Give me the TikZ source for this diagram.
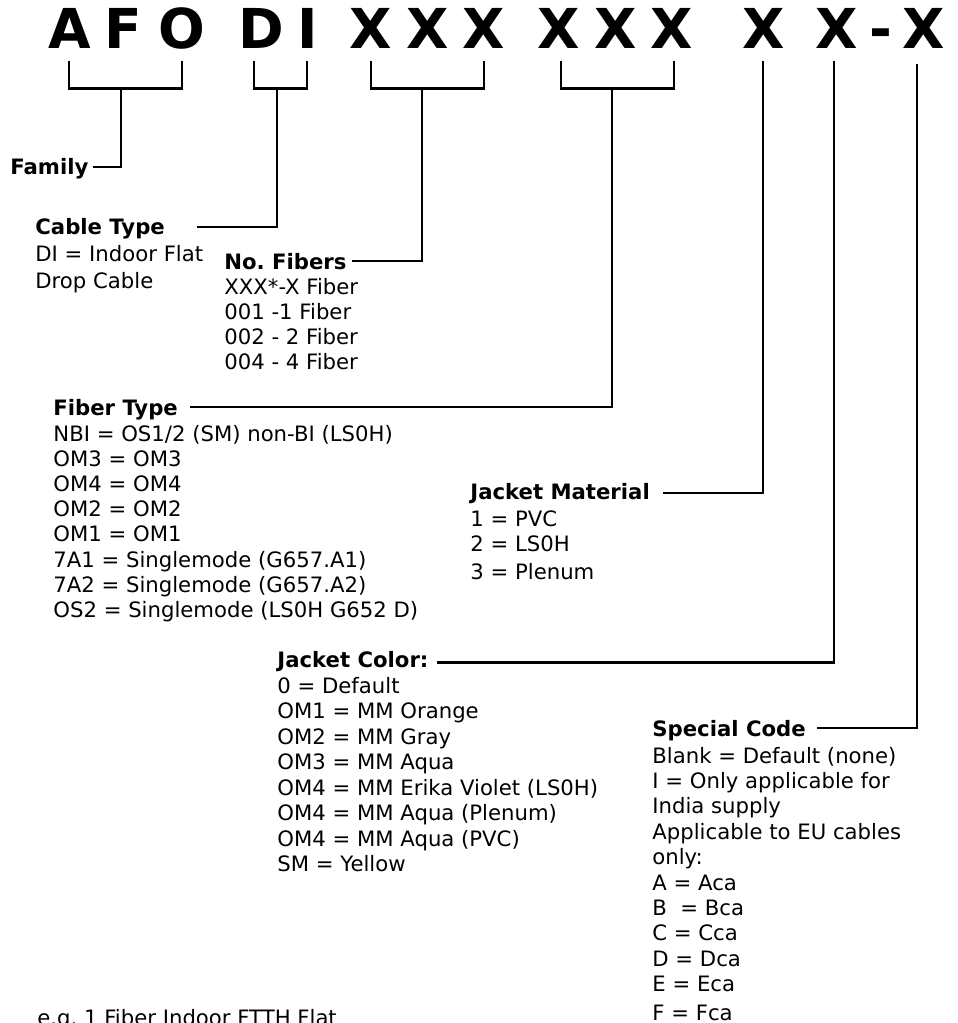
\documentclass[tikz,border=0pt]{standalone}
\usepackage{fontspec}
\setmainfont{DejaVu Sans}
\frenchspacing
\newcommand\blk[2]{{\fontsize{10.6pt}{#1}\selectfont\begin{tabular}[t]{@{}l@{}}#2\end{tabular}}}
\tikzset{
  conn/.style={line width=1.45pt, line join=miter},
  head/.style={font=\fontsize{10.6pt}{12.7pt}\selectfont\bfseries, anchor=base west, inner sep=0pt},
  body/.style={anchor=base west, inner sep=0pt},
  big/.style={font=\fontsize{27.5pt}{30pt}\selectfont\bfseries, anchor=base, inner sep=0pt}
}
\begin{document}
\begin{tikzpicture}[x=0.5pt, y=-0.5pt]
\useasboundingbox (0,0) rectangle (958,1023);
\fill[white] (0,0) rectangle (958,1023);
\clip (0,0) rectangle (958,1023);

% header letters
\node[big] (h1) at (69.7,48) {A};
\node[big] (h2) at (123,48) {F};
\node[big] (h3) at (182,48) {O};
\node[big] (h4) at (261,48) {D};
\node[big] (h5) at (307.5,48) {I};
\node[big] (h6) at (371,48) {X};
\node[big] (h7) at (427.5,48) {X};
\node[big] (h8) at (484,48) {X};
\node[big] (h9) at (559,48) {X};
\node[big] (h10) at (615.5,48) {X};
\node[big] (h11) at (672,48) {X};
\node[big] (h12) at (764,48) {X};
\node[big] (h13) at (837,48) {X};
\node[big] (h14) at (881,48) {-};
\node[big] (h15) at (924,48) {X};

% labels
\node[head] (famH) at (10,174) {Family};
\node[head] (ctH) at (35,234) {Cable Type};
\node[body] (ctB) at (35,261) {\blk{13.5pt}{DI = Indoor Flat\\Drop Cable}};
\node[head] (nfH) at (224,269) {No. Fibers};
\node[body] (nfB) at (224,294) {\blk{12.5pt}{XXX*-X Fiber\\001 -1 Fiber\\002 - 2 Fiber\\004 - 4 Fiber}};
\node[head] (ftH) at (53,415) {Fiber Type};
\node[body] (ftB) at (53,441) {\blk{12.6pt}{NBI = OS1/2 (SM) non-BI (LS0H)\\OM3 = OM3\\OM4 = OM4\\OM2 = OM2\\OM1 = OM1\\7A1 = Singlemode (G657.A1)\\7A2 = Singlemode (G657.A2)\\OS2 = Singlemode (LS0H G652 D)}};
\node[head] (jmH) at (470,499) {Jacket Material};
\node[body] (jmB) at (470,526) {\blk{12.6pt}{1 = PVC\\2 = LS0H\\[1.4pt]3 = Plenum}};
\node[head] (jcH) at (277,667) {Jacket Color:};
\node[body] (jcB) at (277,693) {\blk{12.75pt}{0 = Default\\OM1 = MM Orange\\OM2 = MM Gray\\OM3 = MM Aqua\\OM4 = MM Erika Violet (LS0H)\\OM4 = MM Aqua (Plenum)\\OM4 = MM Aqua (PVC)\\SM = Yellow}};
\node[head] (scH) at (652,736) {Special Code};
\node[body] (scB) at (652,763) {\blk{12.7pt}{Blank = Default (none)\\I = Only applicable for\\India supply\\Applicable to EU cables\\only:\\A = Aca\\B\ \ = Bca\\C = Cca\\D = Dca\\E = Eca\\[1.5pt]F = Fca}};
\node[body] (eg) at (37,1025) {\fontsize{10.6pt}{12.7pt}\selectfont e.g. 1 Fiber Indoor FTTH Flat};

% bracket coordinates
\coordinate (afoL) at (69,61);  \coordinate (afoR) at (182,61);  \coordinate (afoS) at (121,88.5);
\coordinate (diL) at (254,61);  \coordinate (diR) at (307,61);   \coordinate (diS) at (277,88.5);
\coordinate (xaL) at (371,61);  \coordinate (xaR) at (484,61);   \coordinate (xaS) at (422,88.5);
\coordinate (xbL) at (561,61);  \coordinate (xbR) at (674,61);   \coordinate (xbS) at (612,88.5);
\coordinate (jmT) at (763,61);
\coordinate (jcT) at (834,61);
\coordinate (scT) at (917,64);

% label ends
\coordinate (famE) at (93,167);
\coordinate (ctE) at (197,227);
\coordinate (nfE) at (352,261);
\coordinate (ftE) at (190,407);
\coordinate (jmE) at (663,493);
\coordinate (jcE) at (437,662.5);
\coordinate (scE) at (817,728);

% brackets
\draw[conn] (afoL) |- (afoR |- afoS) -- (afoR);
\draw[conn] (diL) |- (diR |- diS) -- (diR);
\draw[conn] (xaL) |- (xaR |- xaS) -- (xaR);
\draw[conn] (xbL) |- (xbR |- xbS) -- (xbR);

% connectors
\draw[conn] (afoS) |- (famE);
\draw[conn] (diS) |- (ctE);
\draw[conn] (xaS) |- (nfE);
\draw[conn] (xbS) |- (ftE);
\draw[conn] (jmT) |- (jmE);
\draw[conn] (jcT) |- (jcE);
\draw[conn] (scT) |- (scE);
\end{tikzpicture}
\end{document}
